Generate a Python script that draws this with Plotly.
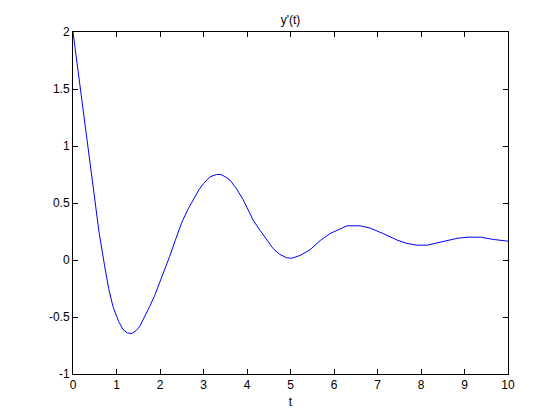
import plotly.graph_objects as go

t_vals = [0, 0.1, 0.2, 0.3, 0.4, 0.5, 0.6, 0.73, 0.82, 0.92, 1.05, 1.15, 1.25, 1.35, 1.45,
          1.53, 1.65, 1.76, 1.88, 1.99, 2.1, 2.22, 2.35, 2.5, 2.65, 2.76, 2.9, 3.0, 3.15,
          3.3, 3.4, 3.5, 3.61, 3.75, 3.91, 4.0, 4.14, 4.3, 4.45, 4.6, 4.75, 4.91, 5.03,
          5.22, 5.45, 5.68, 5.9, 6.06, 6.3, 6.6, 6.83, 7.14, 7.45, 7.68, 7.91, 8.14, 8.43,
          8.83, 9.06, 9.37, 9.67, 10]
y_vals = [2.0, 1.7, 1.41, 1.11, 0.81, 0.52, 0.24, -0.06, -0.25, -0.41, -0.54, -0.61, -0.64,
          -0.645, -0.62, -0.585, -0.50, -0.41, -0.31, -0.205, -0.09, 0.03, 0.17, 0.33, 0.45,
          0.53, 0.62, 0.67, 0.73, 0.75, 0.75, 0.73, 0.70, 0.63, 0.53, 0.46, 0.35, 0.26, 0.18,
          0.10, 0.05, 0.02, 0.015, 0.04, 0.09, 0.17, 0.23, 0.26, 0.30, 0.30, 0.28, 0.23, 0.175,
          0.145, 0.13, 0.13, 0.155, 0.19, 0.20, 0.20, 0.18, 0.165]

x_ticks = list(range(0, 11))
y_ticks = [-1, -0.5, 0, 0.5, 1, 1.5, 2]
y_tick_text = ["-1", "-0.5", "0", "0.5", "1", "1.5", "2"]

fig = go.Figure()
fig.add_trace(go.Scatter(x=t_vals, y=y_vals, mode="lines",
                         line=dict(color="#0000ff", width=1), showlegend=False))

axis_common = dict(showgrid=False, zeroline=False, showline=True, linecolor="black",
                   linewidth=1, mirror="ticks", ticks="inside", ticklen=5,
                   tickcolor="black", tickfont=dict(family="Liberation Sans, Arial", size=12, color="black"))

fig.update_layout(
    width=560, height=420,
    margin=dict(l=65, r=60, t=24, b=54),
    paper_bgcolor="white", plot_bgcolor="white",
    title=dict(text="y'(t)", x=0.5, xref="paper", xanchor="center", y=1, yref="paper",
               yanchor="bottom", pad=dict(b=8),
               font=dict(family="Liberation Sans, Arial", size=12, color="black")),
    xaxis=dict(range=[0, 10], tickvals=x_ticks, title=dict(text="t", standoff=6,
               font=dict(family="Liberation Sans, Arial", size=12, color="black")), **axis_common),
    yaxis=dict(range=[-1, 2], tickvals=y_ticks, ticktext=y_tick_text, **axis_common),
)

fig.write_html("out.html")
